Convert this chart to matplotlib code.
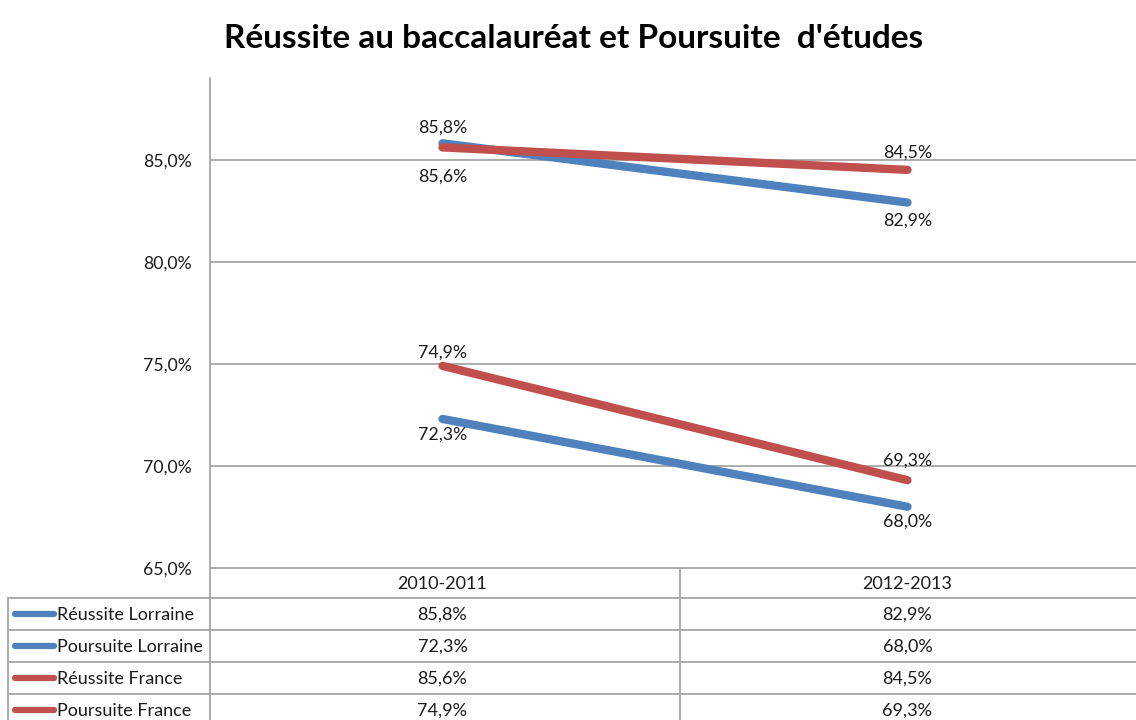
import matplotlib
matplotlib.use("Agg")
import matplotlib.pyplot as plt
from matplotlib.transforms import blended_transform_factory
from matplotlib.lines import Line2D

categories = ["2010-2011", "2012-2013"]
series_names = ["Réussite Lorraine", "Poursuite Lorraine", "Réussite France", "Poursuite France"]
reussite_lorraine = [85.8, 82.9]
poursuite_lorraine = [72.3, 68.0]
reussite_france = [85.6, 84.5]
poursuite_france = [74.9, 69.3]
yticks = [65.0, 70.0, 75.0, 80.0, 85.0]
title = "Réussite au baccalauréat et Poursuite  d'études"

series_values = [reussite_lorraine, poursuite_lorraine, reussite_france, poursuite_france]
colors = ["#4F81BD", "#4F81BD", "#C0504D", "#C0504D"]
# label offsets in pixels (positive = above the point)
label_offsets = [[16, -18], [-16, -15], [-29, 17], [13, 20]]

def fmt(v):
    return f"{v:.1f}%".replace(".", ",")

plt.rcParams['font.family'] = ['Lato', 'DejaVu Sans']
W, H = 1136, 720
fig = plt.figure(figsize=(W / 100, H / 100), dpi=100)
grid_c = "#A6A6A6"
txt_c = "#1a1a1a"

# main axes: x from 210 to 1140 px, y from 78 to 568 px
ax = fig.add_axes([210 / W, (H - 568) / H, 930 / W, (568 - 78) / H])
ax.set_xlim(-0.5, 1.5)
ax.set_ylim(65, 89.0)
for s in ["top", "right", "bottom"]:
    ax.spines[s].set_visible(False)
ax.spines["left"].set_color(grid_c)
ax.spines["left"].set_linewidth(1.3)
ax.set_yticks(yticks)
ax.set_yticklabels([fmt(v) for v in yticks], fontsize=12.7, color=txt_c)
ax.tick_params(axis="y", length=0, pad=13)
ax.set_xticks([])
for v in yticks[1:]:
    ax.axhline(v, color=grid_c, lw=1.3, zorder=1)

xs = list(range(len(categories)))
for vals, c, offs in zip(series_values, colors, label_offsets):
    ax.plot(xs, vals, color=c, lw=6, solid_capstyle="round", zorder=3)
    for x, v, o in zip(xs, vals, offs):
        ax.annotate(fmt(v), (x, v), xytext=(0, o), textcoords="offset pixels",
                    ha="center", va="center", fontsize=12.8, color=txt_c, zorder=4)

fig.text(574 / W, 1 - 38 / H, title, ha="center", va="center", fontsize=24, fontweight="bold",
         color="#000000")

# table axes in pixel coordinates
tax = fig.add_axes([0, 0, 1, (H - 568) / H])
tax.set_xlim(0, W)
tax.set_ylim(H, 568)
tax.axis("off")
row_edges = [568, 598, 630, 662, 694, 726]
lw = 1.3
tax.plot([210, W], [568, 568], color=grid_c, lw=lw, clip_on=False)
for y in row_edges[1:-1]:
    tax.plot([8, W], [y, y], color=grid_c, lw=lw)
tax.plot([8, 8], [598, H], color=grid_c, lw=lw)
tax.plot([210, 210], [568, H], color=grid_c, lw=lw)
tax.plot([680, 680], [568, H], color=grid_c, lw=lw)

tr = blended_transform_factory(ax.transData, tax.transData)
hy = (row_edges[0] + row_edges[1]) / 2 + 1
for x, cat in zip(xs, categories):
    tax.text(x, hy, cat, transform=tr, ha="center", va="center", fontsize=13, color=txt_c)
for i, (name, vals, c) in enumerate(zip(series_names, series_values, colors)):
    yc = (row_edges[i + 1] + row_edges[i + 2]) / 2 + 1
    tax.add_line(Line2D([15, 54], [yc - 1, yc - 1], color=c, lw=4.5, solid_capstyle="round"))
    tax.text(57, yc, name, ha="left", va="center", fontsize=13, color=txt_c)
    for x, v in zip(xs, vals):
        tax.text(x, yc, fmt(v), transform=tr, ha="center", va="center", fontsize=13, color=txt_c)

fig.savefig("out.png", dpi=100, facecolor="white")
